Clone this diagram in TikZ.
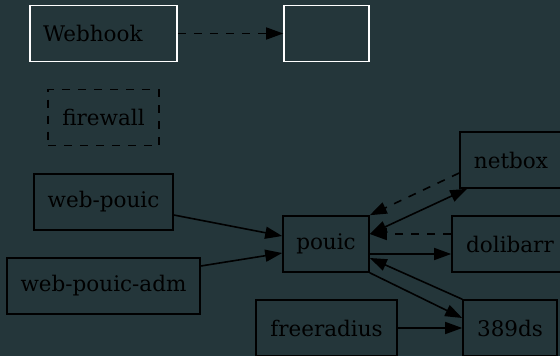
\documentclass[tikz,border=0pt]{standalone}
\usepackage{fontspec}
\setmainfont{DejaVu Serif}
\usetikzlibrary{arrows.meta}
\definecolor{bgslate}{HTML}{24363A}
\begin{document}
\begin{tikzpicture}[x=1pt, y=-1pt,
		box/.style={draw=black, line width=1.6pt, minimum height=56pt, inner sep=0pt, font=\fontsize{21.5}{26}\selectfont},
		edge/.style={line width=1.6pt, -{Triangle[length=17pt,width=12pt]}},
		dashline/.style={dash pattern=on 8pt off 8pt}]
		% background and page size
		\fill[bgslate] (0,0) rectangle (560,356);
		\useasboundingbox (0,0) rectangle (560,356);

		% legend (top left)
		\node[box, draw=white, text width=121pt, inner xsep=13pt, align=left] (hook) at (103.5,33.5) {Webhook};
		\node[box, draw=white, minimum width=85pt] (target) at (326.5,33.5) {};
		\node[box, dashline, minimum width=111pt] (firewall) at (103.5,117.5) {firewall};

		% services
		\node[box, minimum width=139pt] (webpouic) at (103.5,202) {web-pouic};
		\node[box, minimum width=193pt] (webadm) at (103.5,286) {web-pouic-adm};
		\node[box, minimum width=86pt] (pouic) at (326,244) {pouic};
		\node[box, minimum width=102pt] (netbox) at (511,160) {netbox};
		\node[box, minimum width=116pt] (dolibarr) at (510,244) {dolibarr};
		\node[box, minimum width=94pt] (ds) at (510,328) {389ds};
		\node[box, minimum width=141pt] (radius) at (326.5,328) {freeradius};

		% connectors
		\draw[edge, dashline] (hook) -- (target);
		\draw[edge] ([yshift=-13pt]webpouic.east) -- ([yshift=8pt]pouic.west);
		\draw[edge] ([yshift=20pt]webadm.east) -- ([yshift=-9pt]pouic.west);
		\draw[edge, dashline] ([yshift=-13pt]netbox.west) -- (pouic.north east);
		\draw[edge, {Triangle[length=17pt,width=12pt]}-{Triangle[length=17pt,width=12pt]}] ([yshift=10pt]pouic.east) -- ([xshift=8pt]netbox.south west);
		\draw[edge, dashline] ([yshift=10pt]dolibarr.west) -- ([yshift=10pt]pouic.east);
		\draw[edge] ([yshift=-10pt]pouic.east) -- ([yshift=-10pt]dolibarr.west);
		\draw[edge] (ds.north west) -- ([yshift=-14pt]pouic.east);
		\draw[edge] (pouic.south east) -- ([yshift=10pt]ds.west);
		\draw[edge] (radius) -- (ds);
	\end{tikzpicture}
\end{document}
